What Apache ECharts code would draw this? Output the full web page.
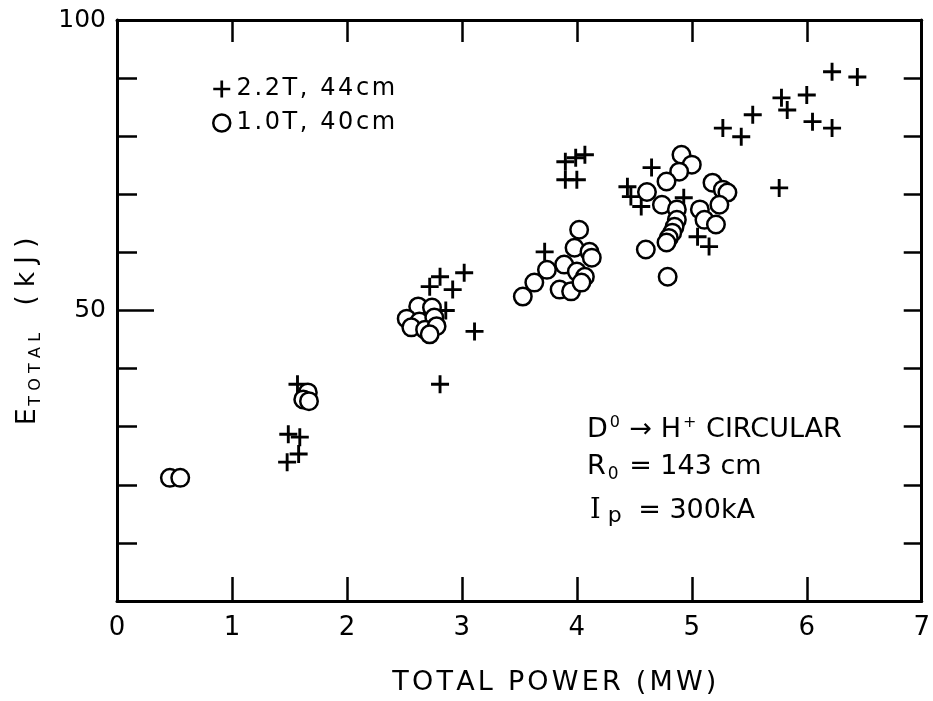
<!DOCTYPE html>
<html>
<head>
<meta charset="utf-8">
<script src="https://cdn.jsdelivr.net/npm/echarts@6/dist/echarts.min.js"></script>
<style>
  html, body { margin: 0; padding: 0; background: #fff; }
  #chart { width: 933px; height: 701px; }
</style>
</head>
<body>
<div id="chart"></div>
<script>
// ---- data ----
const plusPower  = [1.49, 1.59, 1.58, 1.48, 1.57, 2.72, 2.81, 2.92, 3.02, 2.86, 3.11, 2.81,
                    3.72, 3.90, 3.99, 4.07, 3.90, 4.00, 4.65, 4.44, 4.47, 4.56, 4.93, 5.05,
                    5.15, 5.27, 5.43, 5.53, 5.78, 5.83, 6.00, 6.05, 6.22, 6.22, 6.44, 5.76];
const plusEnergy = [28.7, 28.2, 25.3, 23.9, 37.3, 54.1, 55.8, 53.6, 56.5, 50.0, 46.4, 37.3,
                    60.1, 75.6, 76.3, 76.8, 72.5, 72.5, 74.6, 71.3, 69.6, 67.9, 69.4, 62.7,
                    61.0, 81.4, 79.9, 83.7, 86.6, 84.5, 87.1, 82.5, 81.4, 91.1, 90.2, 71.1];

const circlePower  = [0.46, 0.55, 1.66, 1.62, 1.67,
                      2.62, 2.74, 2.52, 2.63, 2.76, 2.56, 2.68, 2.78, 2.72,
                      4.02, 3.98, 4.11, 4.13, 3.89, 3.74, 3.63, 3.53, 4.00, 4.07, 3.85, 3.95, 4.04,
                      4.91, 5.00, 4.89, 4.78, 5.18, 5.27, 5.31, 4.61, 4.74, 4.87, 5.07, 5.24,
                      5.11, 5.21, 4.87, 4.85, 4.83, 4.80, 4.78, 4.60, 4.79];
const circleEnergy = [21.2, 21.2, 35.9, 34.7, 34.4,
                      50.7, 50.5, 48.6, 48.1, 48.8, 47.1, 46.7, 47.3, 45.9,
                      63.9, 60.8, 60.1, 59.1, 57.9, 57.0, 54.8, 52.4, 56.7, 55.8, 53.6, 53.3, 54.8,
                      76.8, 75.1, 73.9, 72.2, 72.0, 70.8, 70.3, 70.4, 68.2, 67.4, 67.4, 68.2,
                      65.6, 64.8, 65.6, 64.4, 63.4, 62.5, 61.7, 60.5, 55.8];

const seriesNames = ['2.2T, 44cm', '1.0T, 40cm'];
const yLabelValues = [50, 100];
const xName = 'TOTAL POWER (MW)';
const yNameMain = 'E';
const yNameSub = 'TOTAL';
const yNameUnit = '( k J )';

// ---- chart ----
const FONT = 'DejaVu Sans';
const plusPath = 'path://M8.4,0H11.6V8.4H20V11.6H11.6V20H8.4V11.6H0V8.4H8.4Z';

const zip = (a, b) => a.map((v, i) => [v, b[i]]);
// spread letters a little (the reference lettering is widely spaced)
const spaced = (str, key) => str.split('').map(c => '{' + key + '|' + c + '}').join('');

const chart = echarts.init(document.getElementById('chart'), null, { renderer: 'canvas' });

const axisLine = { show: true, onZero: false, lineStyle: { color: '#000', width: 3 } };

chart.setOption({
  animation: false,
  backgroundColor: '#fff',
  grid: { left: 117, right: 10, top: 20, bottom: 99, containLabel: false },
  legend: {
    orient: 'vertical',
    left: 207,
    top: 72,
    itemWidth: 17,
    itemHeight: 17,
    itemGap: 10,
    selectedMode: false,
    formatter: name => spaced(name, 'c'),
    textStyle: {
      color: '#000', fontSize: 24, fontFamily: FONT,
      rich: { c: { fontSize: 24, fontFamily: FONT, color: '#000', padding: [0, 1.3, 0, 1.3] } }
    },
    data: [
      { name: seriesNames[0], icon: plusPath, itemStyle: { color: '#000', borderWidth: 0, opacity: 1 } },
      { name: seriesNames[1], icon: 'circle', itemStyle: { color: '#fff', borderColor: '#000', borderWidth: 2.5, opacity: 1 } }
    ]
  },
  xAxis: [
    {
      type: 'value', position: 'bottom', min: 0, max: 7, interval: 1,
      axisLine: axisLine,
      axisTick: { show: true, inside: true, length: 24, lineStyle: { color: '#000', width: 2.5 } },
      axisLabel: { color: '#000', fontSize: 26, fontFamily: FONT, margin: 14 },
      splitLine: { show: false },
      name: spaced(xName, 'c'), nameLocation: 'middle', nameGap: 68,
      nameTextStyle: {
        color: '#000', fontSize: 27, fontFamily: FONT, padding: [0, 0, 0, 70],
        rich: { c: { fontSize: 27, fontFamily: FONT, color: '#000', padding: [0, 1.6, 0, 1.6] } }
      }
    },
    {
      type: 'value', position: 'top', min: 0, max: 7, interval: 1,
      axisLine: axisLine,
      axisTick: { show: true, inside: true, length: 22, lineStyle: { color: '#000', width: 2.5 } },
      axisLabel: { show: false },
      splitLine: { show: false }
    }
  ],
  yAxis: [
    {
      type: 'value', position: 'left', min: 0, max: 100, interval: 10,
      axisLine: axisLine,
      axisTick: { show: true, inside: true, length: 20, lineStyle: { color: '#000', width: 2.5 } },
      axisLabel: {
        color: '#000', fontSize: 25, fontFamily: FONT, margin: 11,
        formatter: v => yLabelValues.indexOf(v) >= 0 ? String(v) : ''
      },
      splitLine: { show: false },
      name: '{e|' + yNameMain + '}' + spaced(yNameSub, 's') + '{u|   ' + yNameUnit + '}',
      nameLocation: 'middle', nameGap: 73, nameRotate: 90,
      nameTextStyle: {
        color: '#000', fontFamily: FONT, padding: [0, 42, 0, 0],
        rich: {
          e: { fontSize: 27, fontFamily: FONT, color: '#000', lineHeight: 30, verticalAlign: 'top' },
          s: { fontSize: 16, fontFamily: FONT, color: '#000', lineHeight: 16, verticalAlign: 'bottom', padding: [0, 2.6, 0, 2.6] },
          u: { fontSize: 26, fontFamily: FONT, color: '#000', lineHeight: 30, verticalAlign: 'top' }
        }
      }
    },
    {
      type: 'value', position: 'right', min: 0, max: 100, interval: 10,
      axisLine: axisLine,
      axisTick: { show: true, inside: true, length: 18, lineStyle: { color: '#000', width: 2.5 } },
      axisLabel: { show: false },
      splitLine: { show: false }
    },
    {
      type: 'value', position: 'left', min: 0, max: 100, interval: 50,
      axisLine: { show: false, onZero: false },
      axisTick: { show: true, inside: true, length: 37, lineStyle: { color: '#000', width: 2.5 } },
      axisLabel: { show: false },
      splitLine: { show: false }
    }
  ],
  series: [
    {
      name: seriesNames[0], type: 'scatter', xAxisIndex: 0, yAxisIndex: 0,
      data: zip(plusPower, plusEnergy),
      symbol: plusPath, symbolSize: 18,
      itemStyle: { color: '#000', opacity: 1 },
      emphasis: { disabled: true }, z: 2
    },
    {
      name: seriesNames[1], type: 'scatter', xAxisIndex: 0, yAxisIndex: 0,
      data: zip(circlePower, circleEnergy),
      symbol: 'circle', symbolSize: 17.5,
      itemStyle: { color: '#fff', borderColor: '#000', borderWidth: 2.5, opacity: 1 },
      emphasis: { disabled: true }, z: 3
    }
  ],
  graphic: [
    {
      type: 'text', left: 587, top: 413, silent: true,
      style: {
        text: '{n|D}{p|0}{n| → H}{p|+}{n| CIRCULAR}',
        fill: '#000',
        rich: {
          n: { fontSize: 27, fontFamily: FONT, fill: '#000', lineHeight: 30, verticalAlign: 'bottom' },
          p: { fontSize: 16, fontFamily: FONT, fill: '#000', lineHeight: 16, verticalAlign: 'top', padding: [2, 1, 0, 2] }
        }
      }
    },
    {
      type: 'text', left: 587, top: 453, silent: true,
      style: {
        text: '{n|R}{b|0}{n| = 143 cm}',
        fill: '#000',
        rich: {
          n: { fontSize: 27, fontFamily: FONT, fill: '#000', lineHeight: 30, verticalAlign: 'top' },
          b: { fontSize: 17, fontFamily: FONT, fill: '#000', lineHeight: 17, verticalAlign: 'bottom', padding: [0, 2, 0, 2] }
        }
      }
    },
    {
      type: 'text', left: 590, top: 497, silent: true,
      style: {
        text: '{i|I}{b| p}{n| = 300kA}',
        fill: '#000',
        rich: {
          i: { fontSize: 27, fontFamily: 'DejaVu Serif', fill: '#000', lineHeight: 30, verticalAlign: 'top' },
          n: { fontSize: 27, fontFamily: FONT, fill: '#000', lineHeight: 30, verticalAlign: 'top', padding: [0, 0, 0, 6] },
          b: { fontSize: 22, fontFamily: FONT, fill: '#000', lineHeight: 22, verticalAlign: 'bottom', padding: [0, 2, 0, 0] }
        }
      }
    }
  ]
});
</script>
</body>
</html>
